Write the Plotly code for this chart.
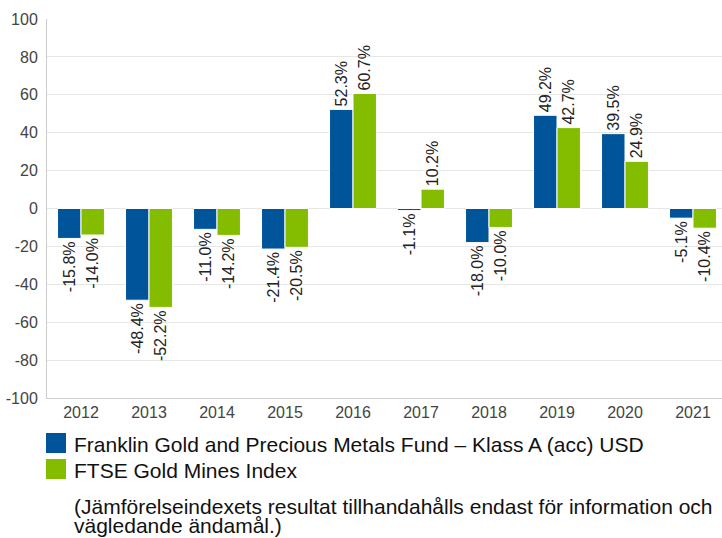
import plotly.graph_objects as go

years = ["2012", "2013", "2014", "2015", "2016", "2017", "2018", "2019", "2020", "2021"]
fund_name = "Franklin Gold and Precious Metals Fund – Klass A (acc) USD"
index_name = "FTSE Gold Mines Index"
fund_values = [-15.8, -48.4, -11.0, -21.4, 52.3, -1.1, -18.0, 49.2, 39.5, -5.1]
index_values = [-14.0, -52.2, -14.2, -20.5, 60.7, 10.2, -10.0, 42.7, 24.9, -10.4]
y_ticks = [-100, -80, -60, -40, -20, 0, 20, 40, 60, 80, 100]
y_tick_labels = [str(v) for v in y_ticks]
footnote_lines = ["(Jämförelseindexets resultat tillhandahålls endast för information och",
                  "vägledande ändamål.)"]

BLUE = "#00559a"
GREEN = "#84bd00"
W, H = 722, 538
ML, MT, MB, MR = 47, 19, 140, 0
PW = W - ML - MR
PH = H - MT - MB
CAT_PX = 68

def px_x(px):
    return (px - ML) / PW

def px_y(py):
    return (H - MB - py) / PH

xpos = list(range(len(years)))

fig = go.Figure()
for name, vals, col in [(fund_name, fund_values, BLUE), (index_name, index_values, GREEN)]:
    fig.add_trace(go.Bar(
        x=xpos, y=vals, name=name,
        marker=dict(color=col, line=dict(color="white", width=1)),
        text=[f"{v:.1f}%" for v in vals],
        textposition="outside", textangle=-90, constraintext="none",
        textfont=dict(family="Liberation Sans, Arial, sans-serif", size=16, color="#222222"),
        cliponaxis=False, showlegend=False, hoverinfo="skip",
    ))

fig.update_layout(
    width=W, height=H,
    margin=dict(l=ML, r=MR, t=MT, b=MB, pad=0),
    paper_bgcolor="white", plot_bgcolor="white",
    barmode="group", bargap=0.31, bargroupgap=0.0,
    font=dict(family="Liberation Sans, Arial, sans-serif", size=16, color="#444444"),
    xaxis=dict(
        range=[-0.5, -0.5 + PW / CAT_PX],
        tickvals=xpos, ticktext=years,
        showgrid=False, zeroline=False,
        showline=True, linecolor="#cccccc", linewidth=1,
        ticks="", tickfont=dict(size=16, color="#444444"),
    ),
    yaxis=dict(
        range=[-100, 100], tickvals=y_ticks, ticktext=y_tick_labels,
        showgrid=True, gridcolor="#e6e6e6", gridwidth=1,
        zeroline=False,
        showline=True, linecolor="#cccccc", linewidth=1,
        ticks="outside", ticklen=5, tickcolor="rgba(0,0,0,0)",
        tickfont=dict(size=16, color="#444444"),
    ),
)

# legend (drawn manually)
legend_items = [(fund_name, BLUE, 433), (index_name, GREEN, 459)]
for name, col, top in legend_items:
    fig.add_shape(type="rect", xref="paper", yref="paper",
                  x0=px_x(46), x1=px_x(66), y0=px_y(top + 20), y1=px_y(top),
                  fillcolor=col, line=dict(width=0))
    fig.add_annotation(xref="paper", yref="paper", x=px_x(72), y=px_y(top + 11),
                       xanchor="left", yanchor="middle", showarrow=False,
                       text=name, font=dict(size=21, color="#111111"))

for i, line in enumerate(footnote_lines):
    fig.add_annotation(xref="paper", yref="paper", x=px_x(72), y=px_y(506 + 19 * i),
                       xanchor="left", yanchor="middle", align="left", showarrow=False,
                       text=line, font=dict(size=21, color="#111111"))

fig.write_html("out.html", config={"displayModeBar": False},
               post_script="document.body.style.margin='0';document.body.style.overflow='hidden';")
